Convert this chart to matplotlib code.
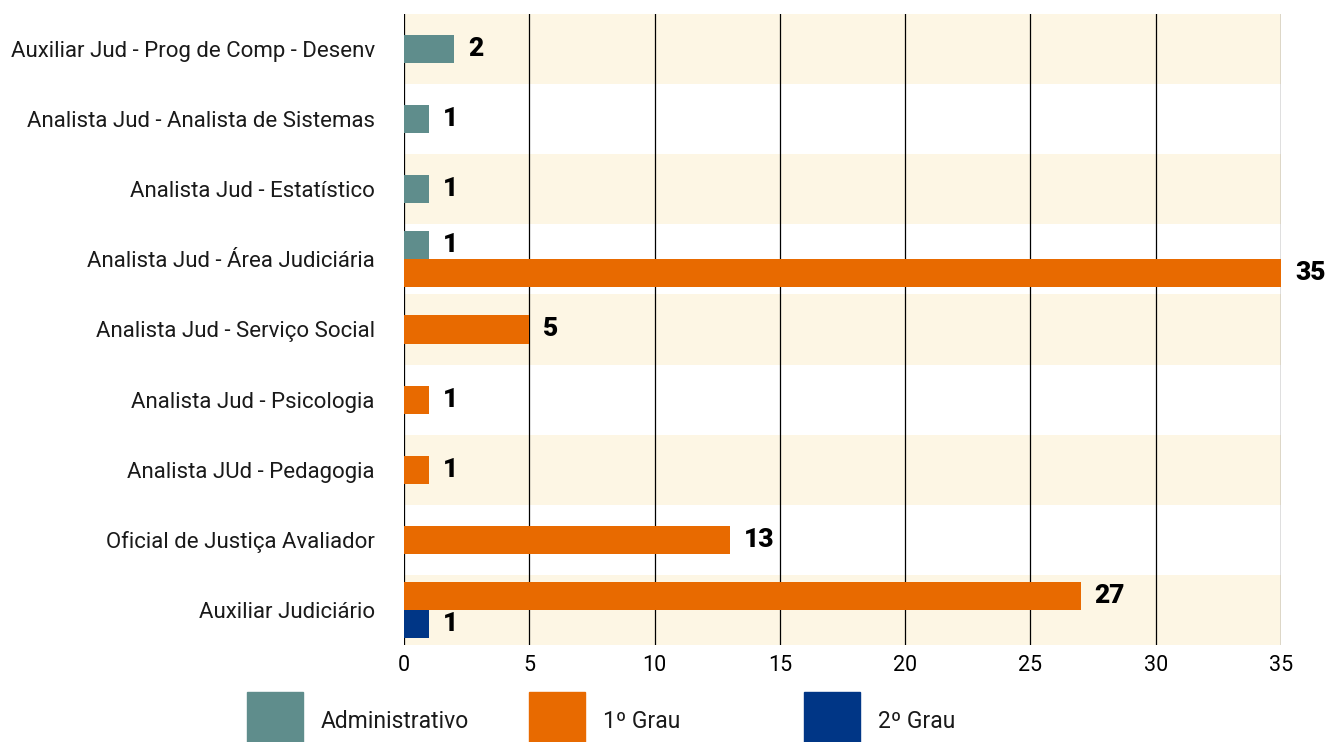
import matplotlib
matplotlib.use("Agg")
import matplotlib.pyplot as plt
from matplotlib.patches import Rectangle
import numpy as np

categories = [
    "Auxiliar Jud - Prog de Comp - Desenv",
    "Analista Jud - Analista de Sistemas",
    "Analista Jud - Estatístico",
    "Analista Jud - Área Judiciária",
    "Analista Jud - Serviço Social",
    "Analista Jud - Psicologia",
    "Analista JUd - Pedagogia",
    "Oficial de Justiça Avaliador",
    "Auxiliar Judiciário",
]
series_names = ["Administrativo", "1º Grau", "2º Grau"]
administrativo = [2, 1, 1, 1, 0, 0, 0, 0, 0]
grau1 = [0, 0, 0, 35, 5, 1, 1, 13, 27]
grau2 = [0, 0, 0, 0, 0, 0, 0, 0, 1]
colors = ["#5f8d8c", "#e86a00", "#003686"]
band_color = "#fdf6e4"

plt.rcParams["font.family"] = ["Roboto", "DejaVu Sans"]

fig = plt.figure(figsize=(13.28, 7.42), dpi=100)
ax = fig.add_axes([404 / 1328, 1 - 645 / 742, 877 / 1328, 631 / 742])

n = len(categories)
bar_h = 0.4

# alternating cream bands
for i in range(0, n, 2):
    ax.axhspan(i - 0.5, i + 0.5, color=band_color, zorder=0, lw=0)

# grid lines
for x in range(0, 36, 5):
    ax.axvline(x, color="black", lw=0.9, zorder=1)

all_series = [administrativo, grau1, grau2]
for i in range(n):
    present = [s for s in range(3) if all_series[s][i] > 0]
    k = len(present)
    for j, s in enumerate(present):
        y = i + (j - (k - 1) / 2) * bar_h
        v = all_series[s][i]
        ax.barh(y, v, height=bar_h, color=colors[s], zorder=2)
        ax.annotate(str(v), (v, y), xytext=(10, 0), textcoords="offset points",
                    ha="left", va="center", fontsize=19, fontweight=900,
                    family=["Roboto", "DejaVu Sans"], annotation_clip=False)

ax.set_xlim(0, 35)
ax.set_ylim(n - 0.5, -0.5)
ax.set_yticks(range(n))
ax.set_yticklabels(categories, fontsize=16, color="#1a1a1a")
ax.set_xticks(range(0, 36, 5))
ax.tick_params(axis="y", length=0, pad=21)
ax.tick_params(axis="x", length=0, pad=7, labelsize=15.5)
for sp in ax.spines.values():
    sp.set_visible(False)

# legend drawn below the axes
legend_x = [247, 529, 804]
for s, name in enumerate(series_names):
    fig.add_artist(Rectangle((legend_x[s] / 1328, 0), 56 / 1328, 50 / 742,
                             transform=fig.transFigure, color=colors[s]))
    fig.text((legend_x[s] + 74) / 1328, 1 - 722 / 742, name, fontsize=16.5,
             va="center", ha="left", color="#1a1a1a")

fig.savefig("out.png", dpi=100)
